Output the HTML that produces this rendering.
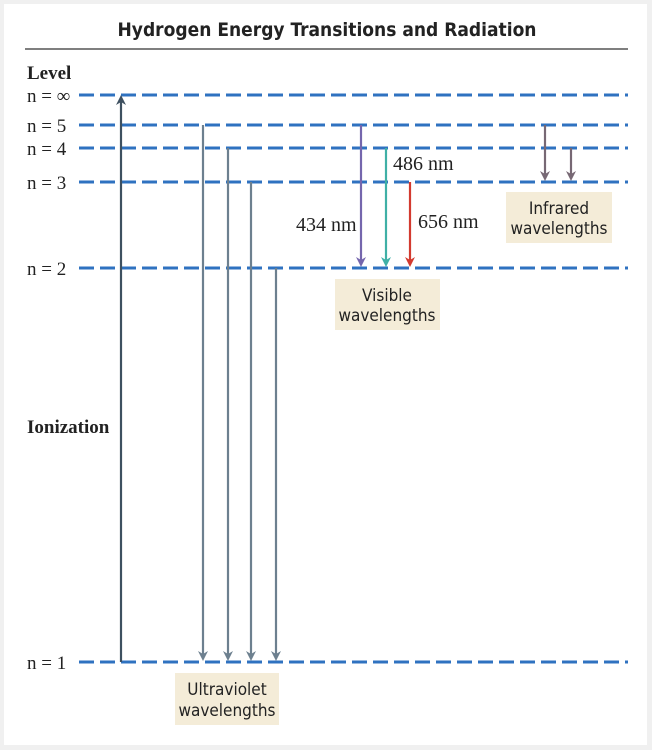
<!DOCTYPE html>
<html><head><meta charset="utf-8"><style>
html,body{margin:0;padding:0;background:#f0f0f0;}
svg{display:block;}
.s{font-family:"Liberation Serif",serif;fill:#222;}
.a{font-family:"DejaVu Sans Condensed","Liberation Sans",sans-serif;fill:#222;}
</style></head><body>
<svg width="652" height="750" viewBox="0 0 652 750" xmlns="http://www.w3.org/2000/svg">
<rect x="4" y="4" width="643" height="741" fill="#fff"/>
<text x="327" y="36" text-anchor="middle" class="a" font-size="19" font-weight="bold" fill="#333">Hydrogen Energy Transitions and Radiation</text>
<line x1="25" y1="49" x2="628" y2="49" stroke="#555" stroke-width="1.5"/>
<g stroke="#2f72c0" stroke-width="3" stroke-dasharray="15 6">
<line x1="79" y1="95" x2="628" y2="95"/>
<line x1="79" y1="125" x2="628" y2="125"/>
<line x1="79" y1="148" x2="628" y2="148"/>
<line x1="79" y1="182" x2="628" y2="182"/>
<line x1="79" y1="268" x2="628" y2="268"/>
<line x1="79" y1="662" x2="628" y2="662"/>
</g>
<g class="s" font-size="19">
<text x="27" y="79" font-weight="bold">Level</text>
<text x="27" y="102">n = ∞</text>
<text x="27" y="132">n = 5</text>
<text x="27" y="155">n = 4</text>
<text x="27" y="189">n = 3</text>
<text x="27" y="275">n = 2</text>
<text x="27" y="669">n = 1</text>
<text x="27" y="433" font-weight="bold">Ionization</text>
</g>
<path d="M121,662 V98" stroke="#3e5060" stroke-width="2.2"/>
<path d="M121,95 l-5,10 l5,-3 l5,3 Z" fill="#3e5060"/>
<g stroke="#6d808f" stroke-width="2.2" fill="none">
<path d="M203,125 V658"/><path d="M228,148 V658"/><path d="M251,182 V658"/><path d="M276,268 V658"/>
</g>
<g fill="#6d808f">
<path d="M203,661 l-5,-10 l5,3 l5,-3 Z"/><path d="M228,661 l-5,-10 l5,3 l5,-3 Z"/><path d="M251,661 l-5,-10 l5,3 l5,-3 Z"/><path d="M276,661 l-5,-10 l5,3 l5,-3 Z"/>
</g>
<path d="M361,125 V264" stroke="#7566ad" stroke-width="2.2"/><path d="M361,267 l-5,-10 l5,3 l5,-3 Z" fill="#7566ad"/>
<path d="M386,148 V264" stroke="#3fb0a6" stroke-width="2.2"/><path d="M386,267 l-5,-10 l5,3 l5,-3 Z" fill="#3fb0a6"/>
<path d="M410,182 V264" stroke="#d33a2f" stroke-width="2.2"/><path d="M410,267 l-5,-10 l5,3 l5,-3 Z" fill="#d33a2f"/>
<path d="M545,125 V178" stroke="#776874" stroke-width="2.2"/><path d="M545,181 l-5,-10 l5,3 l5,-3 Z" fill="#776874"/>
<path d="M571,148 V178" stroke="#776874" stroke-width="2.2"/><path d="M571,181 l-5,-10 l5,3 l5,-3 Z" fill="#776874"/>
<g class="s" font-size="20">
<text x="296" y="231">434 nm</text>
<text x="393" y="170">486 nm</text>
<text x="418" y="228">656 nm</text>
</g>
<rect x="506" y="192" width="106" height="51" fill="#f4ecd8"/>
<rect x="335" y="279" width="105" height="51" fill="#f4ecd8"/>
<rect x="175" y="673" width="104" height="52" fill="#f4ecd8"/>
<g class="a" font-size="17" text-anchor="middle" fill="#222">
<text x="559" y="214">Infrared</text><text x="559" y="234">wavelengths</text>
<text x="387" y="301">Visible</text><text x="387" y="321">wavelengths</text>
<text x="227" y="695">Ultraviolet</text><text x="227" y="716">wavelengths</text>
</g>
</svg>
</body></html>
